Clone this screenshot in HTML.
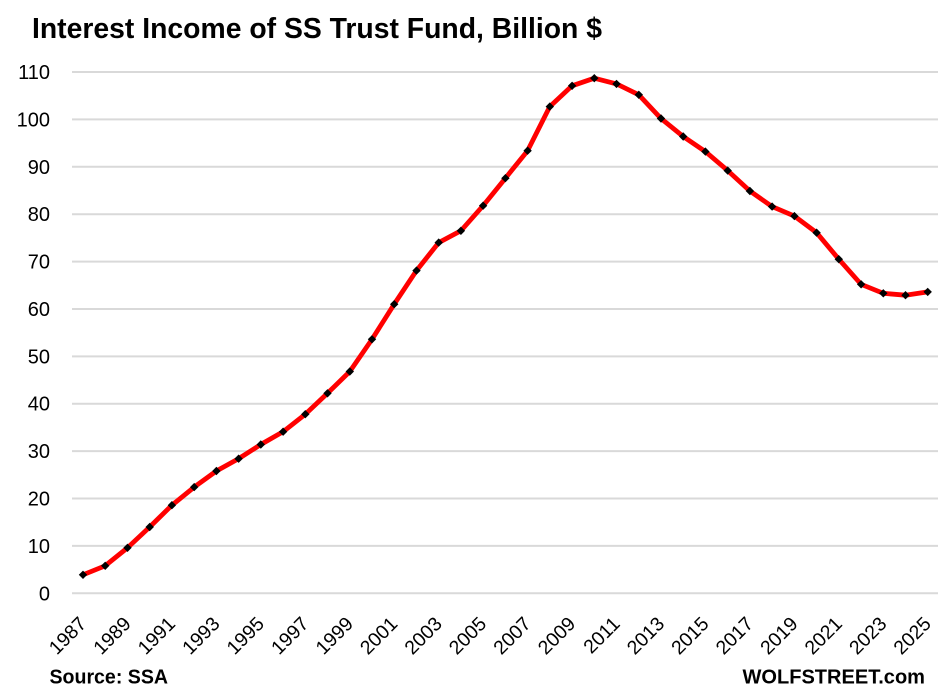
<!DOCTYPE html>
<html>
<head>
<meta charset="utf-8">
<style>
  html,body{margin:0;padding:0;background:#fff;}
  svg{display:block;}
  text{font-family:"Liberation Sans", Arial, sans-serif;fill:#000;}
</style>
</head>
<body>
<svg width="941" height="692" viewBox="0 0 941 692" xmlns="http://www.w3.org/2000/svg">
  <defs>
    <marker id="dia" markerWidth="10" markerHeight="10" refX="5" refY="5" markerUnits="userSpaceOnUse">
      <path d="M5,0.8 L9.2,5 L5,9.2 L0.8,5 Z" fill="#000"/>
    </marker>
  </defs>
  <rect width="941" height="692" fill="#fff"/>

  <!-- Title -->
  <text x="32" y="38" font-size="29" font-weight="bold" textLength="570" lengthAdjust="spacingAndGlyphs">Interest Income of SS Trust Fund, Billion $</text>

  <!-- Gridlines -->
  <g stroke="#d9d9d9" stroke-width="2">
    <line x1="72" x2="938" y1="593.3" y2="593.3"/>
    <line x1="72" x2="938" y1="545.9" y2="545.9"/>
    <line x1="72" x2="938" y1="498.5" y2="498.5"/>
    <line x1="72" x2="938" y1="451.1" y2="451.1"/>
    <line x1="72" x2="938" y1="403.7" y2="403.7"/>
    <line x1="72" x2="938" y1="356.4" y2="356.4"/>
    <line x1="72" x2="938" y1="309.0" y2="309.0"/>
    <line x1="72" x2="938" y1="261.6" y2="261.6"/>
    <line x1="72" x2="938" y1="214.2" y2="214.2"/>
    <line x1="72" x2="938" y1="166.8" y2="166.8"/>
    <line x1="72" x2="938" y1="119.4" y2="119.4"/>
    <line x1="72" x2="938" y1="72.0" y2="72.0"/>
  </g>

  <!-- Y labels -->
  <g font-size="20" text-anchor="end">
    <text x="50" y="600.3">0</text>
    <text x="50" y="552.9">10</text>
    <text x="50" y="505.5">20</text>
    <text x="50" y="458.1">30</text>
    <text x="50" y="410.7">40</text>
    <text x="50" y="363.4">50</text>
    <text x="50" y="316.0">60</text>
    <text x="50" y="268.6">70</text>
    <text x="50" y="221.2">80</text>
    <text x="50" y="173.8">90</text>
    <text x="50" y="126.4">100</text>
    <text x="50" y="79.0">110</text>
  </g>

  <!-- X labels -->
  <g font-size="19.5" text-anchor="end">
    <text transform="translate(87.5,625) rotate(-45)">1987</text>
    <text transform="translate(132.0,625) rotate(-45)">1989</text>
    <text transform="translate(176.4,625) rotate(-45)">1991</text>
    <text transform="translate(220.9,625) rotate(-45)">1993</text>
    <text transform="translate(265.3,625) rotate(-45)">1995</text>
    <text transform="translate(309.8,625) rotate(-45)">1997</text>
    <text transform="translate(354.3,625) rotate(-45)">1999</text>
    <text transform="translate(398.7,625) rotate(-45)">2001</text>
    <text transform="translate(443.2,625) rotate(-45)">2003</text>
    <text transform="translate(487.6,625) rotate(-45)">2005</text>
    <text transform="translate(532.1,625) rotate(-45)">2007</text>
    <text transform="translate(576.6,625) rotate(-45)">2009</text>
    <text transform="translate(621.0,625) rotate(-45)">2011</text>
    <text transform="translate(665.5,625) rotate(-45)">2013</text>
    <text transform="translate(709.9,625) rotate(-45)">2015</text>
    <text transform="translate(754.4,625) rotate(-45)">2017</text>
    <text transform="translate(798.9,625) rotate(-45)">2019</text>
    <text transform="translate(843.3,625) rotate(-45)">2021</text>
    <text transform="translate(887.8,625) rotate(-45)">2023</text>
    <text transform="translate(932.2,625) rotate(-45)">2025</text>
  </g>

  <!-- Series -->
  <polyline fill="none" stroke="#ff0000" stroke-width="4.8" stroke-linejoin="round" stroke-linecap="round"
    marker-start="url(#dia)" marker-mid="url(#dia)" marker-end="url(#dia)"
    points="83.0,574.8 105.2,565.8 127.5,547.8 149.7,527.0 171.9,505.2 194.2,487.1 216.4,471.0 238.6,458.7 260.8,444.5 283.1,431.7 305.3,414.2 327.5,393.3 349.8,371.5 372.0,339.3 394.2,304.2 416.5,270.6 438.7,242.6 460.9,230.8 483.1,205.7 505.4,178.2 527.6,150.7 549.8,106.6 572.1,85.8 594.3,78.2 616.5,83.9 638.8,94.8 661.0,118.5 683.2,136.5 705.4,151.6 727.7,170.6 749.9,191.0 772.1,206.6 794.4,216.1 816.6,232.7 838.8,259.2 861.1,284.3 883.3,293.3 905.5,295.2 927.7,291.9"/>

  <!-- Footer -->
  <text x="49.5" y="683.3" font-size="20" font-weight="bold" textLength="118.5" lengthAdjust="spacingAndGlyphs">Source: SSA</text>
  <text x="742.5" y="683.3" font-size="20" font-weight="bold" textLength="182.5" lengthAdjust="spacingAndGlyphs">WOLFSTREET.com</text>
</svg>
</body>
</html>
